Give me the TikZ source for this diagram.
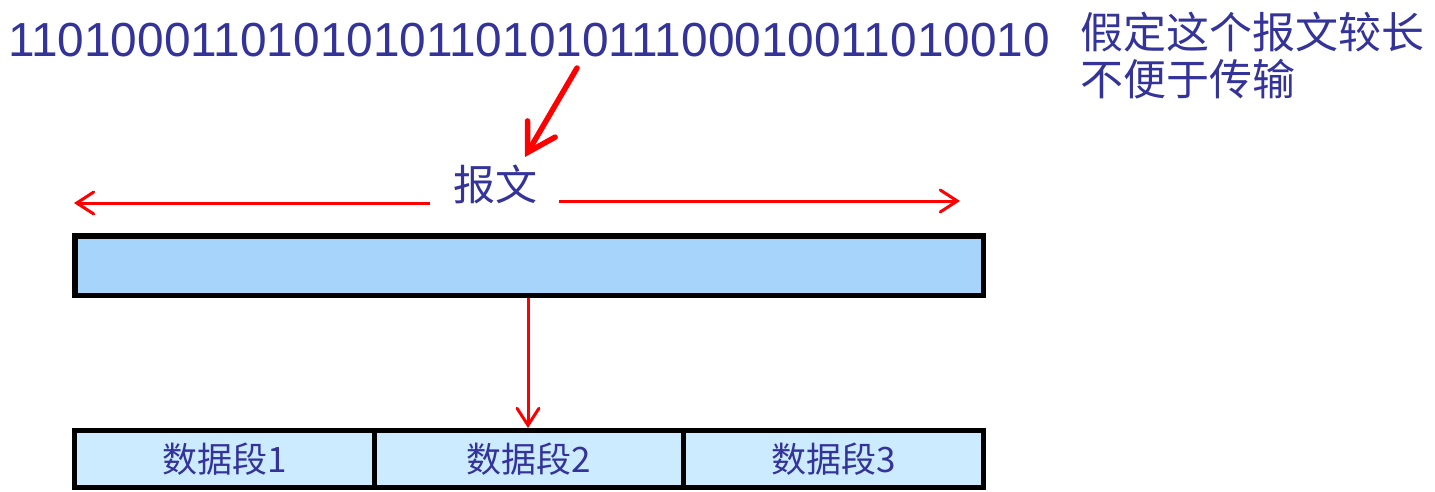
\documentclass[tikz,border=0pt]{standalone}
\usepackage{fontspec}
\setmainfont{Liberation Sans}
\newfontfamily\cjk{Noto Sans CJK SC}
\usetikzlibrary{arrows.meta}
\definecolor{txtblue}{HTML}{333399}
\definecolor{bigfill}{HTML}{A6D4FA}
\definecolor{segfill}{HTML}{CCEBFF}
\definecolor{arrred}{HTML}{FF0000}
\tikzset{
  redarrow/.style={draw=arrred, line width=3pt, -{Straight Barb[length=17pt,width=22pt,line cap=round]}},
  bigarrow/.style={draw=arrred, line width=5.5pt, line cap=round, -{Straight Barb[length=27pt,width=32pt,line cap=round]}},
  segbox/.style={draw=black, line width=5pt, fill=segfill, minimum height=57pt, inner sep=0pt, text=txtblue, font=\cjk\fontsize{35}{40}\selectfont, anchor=north west},
}
\begin{document}
\begin{tikzpicture}[x=1pt,y=-1pt]
\useasboundingbox (0,0) rectangle (1435,491);
\node[anchor=base west, inner sep=0pt, text=txtblue, font=\fontsize{47.8}{50}\selectfont] (bits) at (8,56) {1101000110101010110101011100010011010010};
\node[anchor=north west, inner sep=0pt, text=txtblue, align=left, font=\cjk\fontsize{43}{47}\selectfont] (note) at (1080,12) {假定这个报文较长\\不便于传输};
\node[inner sep=0pt, text=txtblue, font=\cjk\fontsize{42}{46}\selectfont] (label) at (495,184) {报文};
\coordinate (bstart) at (577,68);
\coordinate (ltip) at (74,203);
\coordinate (rtip) at (960,201);
\coordinate (lst) at (430,203);
\coordinate (rst) at (559,201);
\draw[bigarrow] (bstart) -- (525,157);
\draw[redarrow] (lst) -- (ltip);
\draw[redarrow] (rst) -- (rtip);
\node[draw=black, line width=5.5pt, fill=bigfill, minimum width=908.5pt, minimum height=59.5pt, inner sep=0pt, anchor=north west] (big) at (72,233) {};
\node[segbox, minimum width=299.5pt] (s1) at (72,428) {数据段1};
\node[segbox, minimum width=309pt] (s2) at (371.5,428) {数据段2};
\node[segbox, minimum width=300.5pt] (s3) at (680.5,428) {数据段3};
\draw[redarrow] (big.south -| 528,0) -- (s2.north -| 528,0);
\end{tikzpicture}
\end{document}
